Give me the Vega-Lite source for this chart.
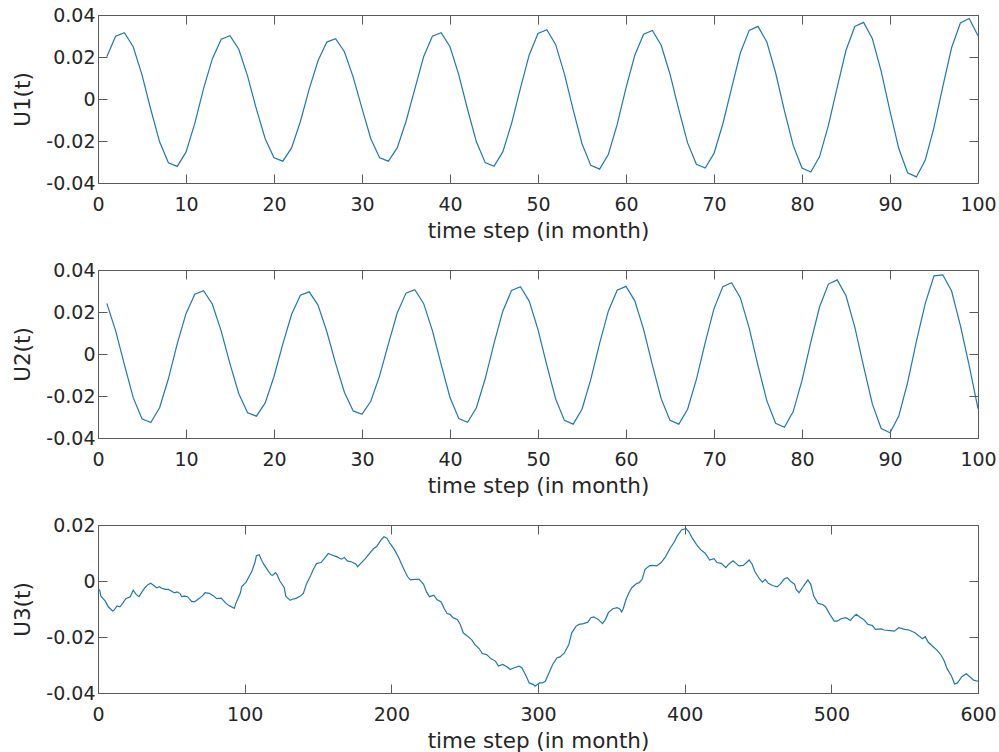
{
  "$schema": "https://vega.github.io/schema/vega-lite/v6.json",
  "padding": {"left": 12, "top": 5, "right": 5, "bottom": 0},
  "background": "white",
  "bounds": "flush",
  "spacing": 87,
  "config": {
    "view": {"stroke": "#5a5a5a", "strokeWidth": 1},
    "font": "DejaVu Sans",
    "axis": {
      "labelFont": "DejaVu Sans", "labelFontSize": 19, "labelColor": "#262626",
      "titleFont": "DejaVu Sans", "titleFontSize": 21.5, "titleFontWeight": "normal", "titleColor": "#262626",
      "grid": false, "domain": false, "tickColor": "#5a5a5a", "tickSize": -9, "tickWidth": 1,
      "labelFlush": false, "labelOverlap": false
    },
    "line": {"color": "#1f78b0", "strokeWidth": 1.2}
  },
  "datasets": {
    "u1": [
      {"t":1,"u":0.0201},{"t":2,"u":0.0299},{"t":3,"u":0.0316},{"t":4,"u":0.0249},{"t":5,"u":0.0115},{"t":6,"u":-0.0050},{"t":7,"u":-0.0204},{"t":8,"u":-0.0304},{"t":9,"u":-0.0321},{"t":10,"u":-0.0253},{"t":11,"u":-0.0116},{"t":12,"u":0.0051},
      {"t":13,"u":0.0192},{"t":14,"u":0.0285},{"t":15,"u":0.0301},{"t":16,"u":0.0237},{"t":17,"u":0.0109},{"t":18,"u":-0.0048},{"t":19,"u":-0.0189},{"t":20,"u":-0.0280},{"t":21,"u":-0.0296},{"t":22,"u":-0.0233},{"t":23,"u":-0.0107},{"t":24,"u":0.0047},
      {"t":25,"u":0.0182},{"t":26,"u":0.0271},{"t":27,"u":0.0287},{"t":28,"u":0.0225},{"t":29,"u":0.0104},{"t":30,"u":-0.0045},{"t":31,"u":-0.0189},{"t":32,"u":-0.0280},{"t":33,"u":-0.0296},{"t":34,"u":-0.0233},{"t":35,"u":-0.0107},{"t":36,"u":0.0047},
      {"t":37,"u":0.0201},{"t":38,"u":0.0299},{"t":39,"u":0.0316},{"t":40,"u":0.0249},{"t":41,"u":0.0115},{"t":42,"u":-0.0050},{"t":43,"u":-0.0204},{"t":44,"u":-0.0303},{"t":45,"u":-0.0320},{"t":46,"u":-0.0252},{"t":47,"u":-0.0116},{"t":48,"u":0.0051},
      {"t":49,"u":0.0210},{"t":50,"u":0.0312},{"t":51,"u":0.0330},{"t":52,"u":0.0260},{"t":53,"u":0.0120},{"t":54,"u":-0.0052},{"t":55,"u":-0.0213},{"t":56,"u":-0.0316},{"t":57,"u":-0.0334},{"t":58,"u":-0.0263},{"t":59,"u":-0.0121},{"t":60,"u":0.0053},
      {"t":61,"u":0.0208},{"t":62,"u":0.0308},{"t":63,"u":0.0326},{"t":64,"u":0.0256},{"t":65,"u":0.0118},{"t":66,"u":-0.0051},{"t":67,"u":-0.0209},{"t":68,"u":-0.0311},{"t":69,"u":-0.0329},{"t":70,"u":-0.0259},{"t":71,"u":-0.0119},{"t":72,"u":0.0052},
      {"t":73,"u":0.0220},{"t":74,"u":0.0327},{"t":75,"u":0.0346},{"t":76,"u":0.0272},{"t":77,"u":0.0125},{"t":78,"u":-0.0055},{"t":79,"u":-0.0221},{"t":80,"u":-0.0329},{"t":81,"u":-0.0348},{"t":82,"u":-0.0274},{"t":83,"u":-0.0126},{"t":84,"u":0.0055},
      {"t":85,"u":0.0232},{"t":86,"u":0.0345},{"t":87,"u":0.0365},{"t":88,"u":0.0287},{"t":89,"u":0.0132},{"t":90,"u":-0.0058},{"t":91,"u":-0.0236},{"t":92,"u":-0.0351},{"t":93,"u":-0.0371},{"t":94,"u":-0.0292},{"t":95,"u":-0.0135},{"t":96,"u":0.0059},
      {"t":97,"u":0.0244},{"t":98,"u":0.0362},{"t":99,"u":0.0383},{"t":100,"u":0.0301}
    ],
    "u2": [
      {"t":1,"u":0.0241},{"t":2,"u":0.0111},{"t":3,"u":-0.0051},{"t":4,"u":-0.0208},{"t":5,"u":-0.0308},{"t":6,"u":-0.0326},{"t":7,"u":-0.0256},{"t":8,"u":-0.0118},{"t":9,"u":0.0048},{"t":10,"u":0.0192},{"t":11,"u":0.0285},{"t":12,"u":0.0301},
      {"t":13,"u":0.0237},{"t":14,"u":0.0109},{"t":15,"u":-0.0047},{"t":16,"u":-0.0189},{"t":17,"u":-0.0280},{"t":18,"u":-0.0296},{"t":19,"u":-0.0233},{"t":20,"u":-0.0107},{"t":21,"u":0.0047},{"t":22,"u":0.0189},{"t":23,"u":0.0280},{"t":24,"u":0.0296},
      {"t":25,"u":0.0233},{"t":26,"u":0.0107},{"t":27,"u":-0.0045},{"t":28,"u":-0.0182},{"t":29,"u":-0.0271},{"t":30,"u":-0.0287},{"t":31,"u":-0.0225},{"t":32,"u":-0.0104},{"t":33,"u":0.0048},{"t":34,"u":0.0195},{"t":35,"u":0.0290},{"t":36,"u":0.0306},
      {"t":37,"u":0.0241},{"t":38,"u":0.0111},{"t":39,"u":-0.0051},{"t":40,"u":-0.0207},{"t":41,"u":-0.0307},{"t":42,"u":-0.0325},{"t":43,"u":-0.0256},{"t":44,"u":-0.0118},{"t":45,"u":0.0051},{"t":46,"u":0.0204},{"t":47,"u":0.0303},{"t":48,"u":0.0320},
      {"t":49,"u":0.0252},{"t":50,"u":0.0116},{"t":51,"u":-0.0053},{"t":52,"u":-0.0213},{"t":53,"u":-0.0316},{"t":54,"u":-0.0334},{"t":55,"u":-0.0263},{"t":56,"u":-0.0121},{"t":57,"u":0.0051},{"t":58,"u":0.0205},{"t":59,"u":0.0304},{"t":60,"u":0.0322},
      {"t":61,"u":0.0253},{"t":62,"u":0.0117},{"t":63,"u":-0.0053},{"t":64,"u":-0.0213},{"t":65,"u":-0.0316},{"t":66,"u":-0.0334},{"t":67,"u":-0.0263},{"t":68,"u":-0.0121},{"t":69,"u":0.0054},{"t":70,"u":0.0216},{"t":71,"u":0.0320},{"t":72,"u":0.0339},
      {"t":73,"u":0.0267},{"t":74,"u":0.0123},{"t":75,"u":-0.0055},{"t":76,"u":-0.0222},{"t":77,"u":-0.0330},{"t":78,"u":-0.0349},{"t":79,"u":-0.0274},{"t":80,"u":-0.0126},{"t":81,"u":0.0056},{"t":82,"u":0.0225},{"t":83,"u":0.0333},{"t":84,"u":0.0353},
      {"t":85,"u":0.0277},{"t":86,"u":0.0128},{"t":87,"u":-0.0059},{"t":88,"u":-0.0239},{"t":89,"u":-0.0355},{"t":90,"u":-0.0375},{"t":91,"u":-0.0295},{"t":92,"u":-0.0136},{"t":93,"u":0.0060},{"t":94,"u":0.0240},{"t":95,"u":0.0372},{"t":96,"u":0.0377},
      {"t":97,"u":0.0300},{"t":98,"u":0.0135},{"t":99,"u":-0.0055},{"t":100,"u":-0.0260}
    ],
    "u3": [
      {"t":1,"u":-0.0030},{"t":2,"u":-0.0054},{"t":5,"u":-0.0072},{"t":7,"u":-0.0092},{"t":10,"u":-0.0107},{"t":11,"u":-0.0104},{"t":13,"u":-0.0089},{"t":15,"u":-0.0092},{"t":17,"u":-0.0078},{"t":19,"u":-0.0063},{"t":22,"u":-0.0056},{"t":24,"u":-0.0033},{"t":26,"u":-0.0048},{"t":28,"u":-0.0056},{"t":30,"u":-0.0039},{"t":32,"u":-0.0024},{"t":34,"u":-0.0013},{"t":36,"u":-0.0008},{"t":38,"u":-0.0016},{"t":40,"u":-0.0024},{"t":42,"u":-0.0020},{"t":43,"u":-0.0025},{"t":46,"u":-0.0030},{"t":48,"u":-0.0030},{"t":50,"u":-0.0036},{"t":52,"u":-0.0042},{"t":54,"u":-0.0039},{"t":56,"u":-0.0045},{"t":57,"u":-0.0056},{"t":59,"u":-0.0054},{"t":61,"u":-0.0056},{"t":64,"u":-0.0074},{"t":66,"u":-0.0074},{"t":68,"u":-0.0066},{"t":71,"u":-0.0054},{"t":73,"u":-0.0042},{"t":76,"u":-0.0044},{"t":79,"u":-0.0054},{"t":81,"u":-0.0063},{"t":84,"u":-0.0061},{"t":87,"u":-0.0078},{"t":89,"u":-0.0087},{"t":92,"u":-0.0095},{"t":93,"u":-0.0097},{"t":94,"u":-0.0080},{"t":97,"u":-0.0044},{"t":98,"u":-0.0020},
      {"t":101,"u":-0.0004},{"t":103,"u":0.0016},{"t":105,"u":0.0036},{"t":107,"u":0.0066},{"t":108,"u":0.0090},{"t":110,"u":0.0094},{"t":111,"u":0.0080},{"t":113,"u":0.0060},{"t":116,"u":0.0036},{"t":118,"u":0.0022},{"t":119,"u":0.0020},{"t":121,"u":0.0030},{"t":122,"u":0.0024},{"t":124,"u":0.0000},{"t":127,"u":-0.0024},{"t":128,"u":-0.0054},{"t":131,"u":-0.0069},{"t":132,"u":-0.0066},{"t":135,"u":-0.0062},{"t":138,"u":-0.0054},{"t":140,"u":-0.0044},{"t":142,"u":-0.0012},{"t":145,"u":0.0020},{"t":147,"u":0.0044},{"t":149,"u":0.0062},{"t":152,"u":0.0066},{"t":154,"u":0.0078},{"t":157,"u":0.0098},{"t":160,"u":0.0092},{"t":163,"u":0.0086},{"t":166,"u":0.0078},{"t":168,"u":0.0084},{"t":170,"u":0.0072},{"t":173,"u":0.0068},{"t":176,"u":0.0060},{"t":177,"u":0.0051},{"t":179,"u":0.0062},{"t":182,"u":0.0078},{"t":185,"u":0.0098},{"t":188,"u":0.0116},{"t":190,"u":0.0123},{"t":193,"u":0.0147},{"t":195,"u":0.0158},{"t":197,"u":0.0153},{"t":199,"u":0.0135},
      {"t":202,"u":0.0113},{"t":205,"u":0.0084},{"t":208,"u":0.0048},{"t":211,"u":0.0016},{"t":213,"u":0.0004},{"t":216,"u":0.0006},{"t":219,"u":0.0006},{"t":222,"u":-0.0012},{"t":224,"u":-0.0039},{"t":226,"u":-0.0056},{"t":229,"u":-0.0051},{"t":231,"u":-0.0066},{"t":234,"u":-0.0075},{"t":236,"u":-0.0098},{"t":238,"u":-0.0116},{"t":240,"u":-0.0119},{"t":242,"u":-0.0131},{"t":245,"u":-0.0137},{"t":247,"u":-0.0155},{"t":249,"u":-0.0185},{"t":252,"u":-0.0197},{"t":255,"u":-0.0211},{"t":257,"u":-0.0227},{"t":260,"u":-0.0242},{"t":262,"u":-0.0259},{"t":265,"u":-0.0263},{"t":268,"u":-0.0278},{"t":271,"u":-0.0286},{"t":273,"u":-0.0304},{"t":276,"u":-0.0298},{"t":279,"u":-0.0307},{"t":281,"u":-0.0316},{"t":284,"u":-0.0310},{"t":287,"u":-0.0304},{"t":289,"u":-0.0310},{"t":292,"u":-0.0340},{"t":294,"u":-0.0364},{"t":297,"u":-0.0370},{"t":298,"u":-0.0376},
      {"t":301,"u":-0.0364},{"t":303,"u":-0.0364},{"t":305,"u":-0.0358},{"t":307,"u":-0.0334},{"t":310,"u":-0.0298},{"t":313,"u":-0.0274},{"t":315,"u":-0.0271},{"t":318,"u":-0.0257},{"t":321,"u":-0.0227},{"t":323,"u":-0.0185},{"t":326,"u":-0.0161},{"t":328,"u":-0.0155},{"t":331,"u":-0.0152},{"t":334,"u":-0.0147},{"t":336,"u":-0.0131},{"t":338,"u":-0.0128},{"t":341,"u":-0.0137},{"t":344,"u":-0.0152},{"t":346,"u":-0.0137},{"t":348,"u":-0.0113},{"t":351,"u":-0.0099},{"t":354,"u":-0.0095},{"t":356,"u":-0.0101},{"t":357,"u":-0.0111},{"t":358,"u":-0.0101},{"t":360,"u":-0.0066},{"t":362,"u":-0.0042},{"t":364,"u":-0.0024},{"t":367,"u":-0.0010},{"t":369,"u":-0.0006},{"t":371,"u":0.0006},{"t":373,"u":0.0042},{"t":376,"u":0.0054},{"t":378,"u":0.0056},{"t":381,"u":0.0054},{"t":384,"u":0.0066},{"t":387,"u":0.0087},{"t":390,"u":0.0116},{"t":393,"u":0.0140},{"t":395,"u":0.0161},{"t":398,"u":0.0183},
      {"t":401,"u":0.0187},{"t":403,"u":0.0175},{"t":405,"u":0.0155},{"t":408,"u":0.0131},{"t":411,"u":0.0111},{"t":414,"u":0.0099},{"t":417,"u":0.0075},{"t":420,"u":0.0080},{"t":422,"u":0.0066},{"t":425,"u":0.0063},{"t":428,"u":0.0048},{"t":430,"u":0.0060},{"t":433,"u":0.0072},{"t":435,"u":0.0063},{"t":437,"u":0.0054},{"t":440,"u":0.0056},{"t":444,"u":0.0075},{"t":446,"u":0.0060},{"t":448,"u":0.0032},{"t":451,"u":0.0008},{"t":453,"u":-0.0004},{"t":455,"u":0.0006},{"t":457,"u":-0.0008},{"t":460,"u":-0.0016},{"t":463,"u":-0.0021},{"t":465,"u":-0.0012},{"t":468,"u":0.0008},{"t":470,"u":0.0012},{"t":472,"u":0.0000},{"t":475,"u":-0.0012},{"t":476,"u":-0.0030},{"t":478,"u":-0.0042},{"t":481,"u":-0.0018},{"t":484,"u":0.0004},{"t":486,"u":-0.0012},{"t":488,"u":-0.0054},{"t":491,"u":-0.0080},{"t":494,"u":-0.0084},{"t":496,"u":-0.0092},{"t":499,"u":-0.0119},
      {"t":502,"u":-0.0143},{"t":504,"u":-0.0143},{"t":507,"u":-0.0134},{"t":510,"u":-0.0131},{"t":513,"u":-0.0141},{"t":515,"u":-0.0128},{"t":517,"u":-0.0119},{"t":520,"u":-0.0131},{"t":522,"u":-0.0137},{"t":525,"u":-0.0155},{"t":528,"u":-0.0159},{"t":530,"u":-0.0173},{"t":534,"u":-0.0171},{"t":536,"u":-0.0175},{"t":540,"u":-0.0177},{"t":543,"u":-0.0179},{"t":546,"u":-0.0167},{"t":550,"u":-0.0173},{"t":553,"u":-0.0175},{"t":557,"u":-0.0185},{"t":560,"u":-0.0197},{"t":562,"u":-0.0206},{"t":564,"u":-0.0199},{"t":566,"u":-0.0218},{"t":569,"u":-0.0233},{"t":572,"u":-0.0247},{"t":575,"u":-0.0266},{"t":577,"u":-0.0286},{"t":579,"u":-0.0314},{"t":582,"u":-0.0340},{"t":584,"u":-0.0368},{"t":586,"u":-0.0364},{"t":589,"u":-0.0342},{"t":592,"u":-0.0331},{"t":594,"u":-0.0340},{"t":597,"u":-0.0354},{"t":600,"u":-0.0358}
    ]
  },
  "vconcat": [
    {
      "width": 880, "height": 168,
      "data": {"name": "u1"},
      "layer": [
        {"mark": {"type": "line"},
         "encoding": {
           "x": {"field": "t", "type": "quantitative", "scale": {"domain": [0, 100], "nice": false},
                 "axis": {"orient": "bottom", "values": [0,10,20,30,40,50,60,70,80,90,100], "title": "time step (in month)", "labelPadding": 21, "titlePadding": 6}},
           "y": {"field": "u", "type": "quantitative", "scale": {"domain": [-0.04, 0.04], "nice": false, "zero": false},
                 "axis": {"orient": "left", "values": [-0.04,-0.02,0,0.02,0.04], "title": "U1(t)", "labelPadding": 12, "titlePadding": 11,
                          "labelExpr": "(datum.value < 0 ? '-' : '') + format(abs(datum.value), '~g')"}}
         }},
        {"mark": {"type": "line", "strokeOpacity": 0},
         "encoding": {
           "x": {"field": "t", "type": "quantitative", "axis": {"orient": "top", "values": [0,10,20,30,40,50,60,70,80,90,100], "labels": false, "title": null}},
           "y": {"field": "u", "type": "quantitative", "axis": {"orient": "right", "values": [-0.04,-0.02,0,0.02,0.04], "labels": false, "title": null}}
         }}
      ],
      "resolve": {"axis": {"x": "independent", "y": "independent"}}
    },
    {
      "width": 880, "height": 168,
      "data": {"name": "u2"},
      "layer": [
        {"mark": {"type": "line"},
         "encoding": {
           "x": {"field": "t", "type": "quantitative", "scale": {"domain": [0, 100], "nice": false},
                 "axis": {"orient": "bottom", "values": [0,10,20,30,40,50,60,70,80,90,100], "title": "time step (in month)", "labelPadding": 21, "titlePadding": 6}},
           "y": {"field": "u", "type": "quantitative", "scale": {"domain": [-0.04, 0.04], "nice": false, "zero": false},
                 "axis": {"orient": "left", "values": [-0.04,-0.02,0,0.02,0.04], "title": "U2(t)", "labelPadding": 12, "titlePadding": 11,
                          "labelExpr": "(datum.value < 0 ? '-' : '') + format(abs(datum.value), '~g')"}}
         }},
        {"mark": {"type": "line", "strokeOpacity": 0},
         "encoding": {
           "x": {"field": "t", "type": "quantitative", "axis": {"orient": "top", "values": [0,10,20,30,40,50,60,70,80,90,100], "labels": false, "title": null}},
           "y": {"field": "u", "type": "quantitative", "axis": {"orient": "right", "values": [-0.04,-0.02,0,0.02,0.04], "labels": false, "title": null}}
         }}
      ],
      "resolve": {"axis": {"x": "independent", "y": "independent"}}
    },
    {
      "width": 880, "height": 168,
      "data": {"name": "u3"},
      "layer": [
        {"mark": {"type": "line"},
         "encoding": {
           "x": {"field": "t", "type": "quantitative", "scale": {"domain": [0, 600], "nice": false},
                 "axis": {"orient": "bottom", "values": [0,100,200,300,400,500,600], "title": "time step (in month)", "labelPadding": 21, "titlePadding": 6}},
           "y": {"field": "u", "type": "quantitative", "scale": {"domain": [-0.04, 0.02], "nice": false, "zero": false},
                 "axis": {"orient": "left", "values": [-0.04,-0.02,0,0.02], "title": "U3(t)", "labelPadding": 12, "titlePadding": 11,
                          "labelExpr": "(datum.value < 0 ? '-' : '') + format(abs(datum.value), '~g')"}}
         }},
        {"mark": {"type": "line", "strokeOpacity": 0},
         "encoding": {
           "x": {"field": "t", "type": "quantitative", "axis": {"orient": "top", "values": [0,100,200,300,400,500,600], "labels": false, "title": null}},
           "y": {"field": "u", "type": "quantitative", "axis": {"orient": "right", "values": [-0.04,-0.02,0,0.02], "labels": false, "title": null}}
         }}
      ],
      "resolve": {"axis": {"x": "independent", "y": "independent"}}
    }
  ]
}
